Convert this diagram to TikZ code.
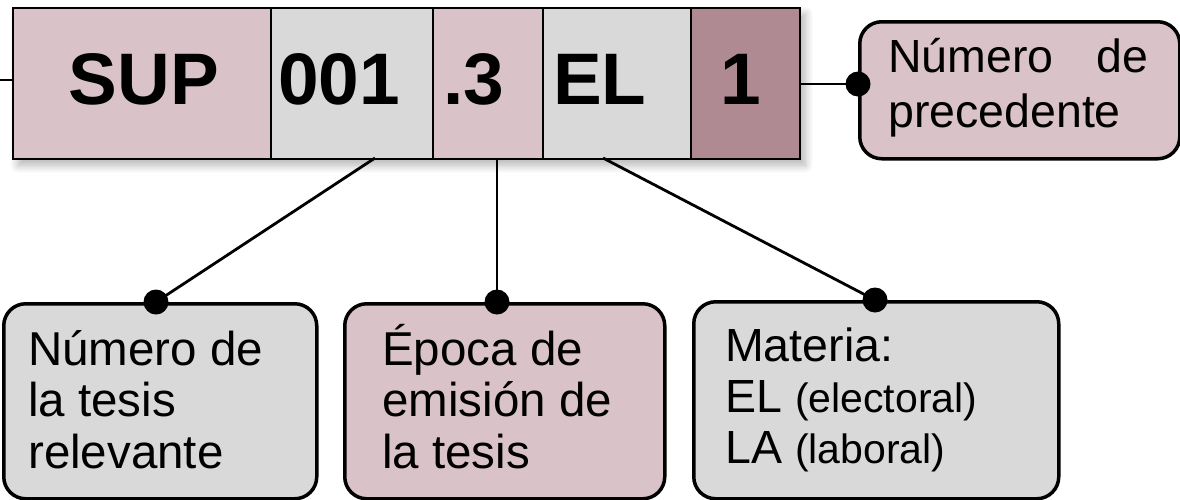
\documentclass[tikz,border=0pt]{standalone}
\usepackage{fontspec}
\setmainfont{Liberation Sans}
\usetikzlibrary{shadows.blur}
\definecolor{pinkc}{RGB}{217,195,200}
\definecolor{grayc}{RGB}{217,217,217}
\definecolor{darkc}{RGB}{176,138,147}
\begin{document}
\begin{tikzpicture}[x=1pt,y=-1pt,
  cell/.style={draw=black, line width=1.8pt, minimum height=151pt, inner sep=0pt, anchor=north west},
  big/.style={font=\fontsize{73}{80}\selectfont\bfseries, inner sep=0pt},
  info/.style={draw=black, line width=3.5pt, rounded corners=22pt, inner sep=0pt, anchor=north west},
  itext/.style={font=\fontsize{47.5}{51.5}\selectfont, inner sep=0pt, anchor=base west, align=left},
  conn/.style={line width=2.8pt},
  dotn/.style={circle, fill=black, minimum size=25pt, inner sep=0pt}]
\useasboundingbox (0,0) rectangle (1180,499);
% shadow of the bar
\node[anchor=north west, minimum width=787pt, minimum height=151pt, inner sep=0pt,
  blur shadow={shadow xshift=6pt, shadow yshift=-7pt, shadow opacity=30, shadow blur steps=12, shadow blur radius=8pt}] (bar) at (12,7) {};
% cells
\node[cell, fill=pinkc, minimum width=258pt] (csup) at (12,7) {};
\node[cell, fill=grayc, minimum width=162pt] (c001) at (270,7) {};
\node[cell, fill=pinkc, minimum width=110pt] (c3) at (432,7) {};
\node[cell, fill=grayc, minimum width=148pt] (cel) at (542,7) {};
\node[cell, fill=darkc, minimum width=109pt] (c1) at (690,7) {};
\node[big, anchor=base] (tsup) at (144,104) {SUP};
\node[big, anchor=base west] (t001) at (278,104) {001};
\node[big, anchor=base west] (t3) at (443,104) {.3};
\node[big, anchor=base west] (tel) at (553,104) {EL};
\node[big, anchor=base] (t1) at (741,104) {1};
% info boxes
\node[info, fill=pinkc, minimum width=320pt, minimum height=137pt] (bprec) at (858,20) {};
\node[info, fill=grayc, minimum width=313pt, minimum height=195pt] (bnum) at (2,302) {};
\node[info, fill=pinkc, minimum width=320pt, minimum height=195pt] (bep) at (343,302) {};
\node[info, fill=grayc, minimum width=365pt, minimum height=197pt] (bmat) at (692,300) {};
\node[itext, text width=260pt, font=\fontsize{46.5}{55}\selectfont] (tprec) at (888,72) {Número\hfill de\\precedente};
\node[itext] (tnum) at (28,468) {Número de\\la tesis\\relevante};
\node[itext] (tep) at (382,468) {Época de\\emisión de\\la tesis};
\node[itext, font=\fontsize{46.5}{51}\selectfont] (tmat) at (725,463) {Materia:\\EL {\fontsize{41}{51}\selectfont(electoral)}\\LA {\fontsize{41}{51}\selectfont(laboral)}};
% connectors
\coordinate (lstub) at (0,80);
\coordinate (a001) at (375,158);
\coordinate (a3) at (497,158);
\coordinate (ael) at (603,158);
\node[dotn] (dprec) at (858,84) {};
\node[dotn] (dnum) at (156,302) {};
\node[dotn] (dep) at (497,302) {};
\node[dotn] (dmat) at (875,300) {};
\draw[conn] (lstub) -- (csup.west |- lstub);
\draw[conn] (c1.east |- dprec) -- (dprec.center);
\draw[conn] (a001) -- (dnum.center);
\draw[conn] (a3) -- (dep.center);
\draw[conn] (ael) -- (dmat.center);
\end{tikzpicture}
\end{document}
